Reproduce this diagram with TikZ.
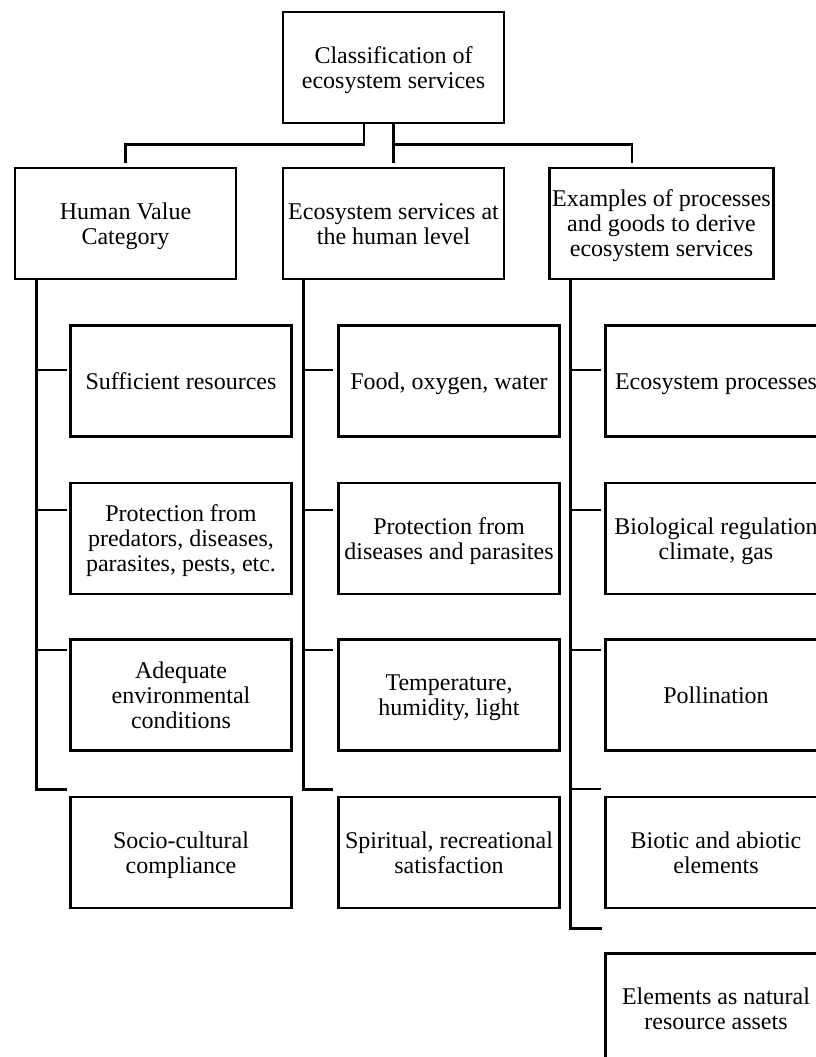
\documentclass[tikz,border=0pt]{standalone}
\usepackage{fontspec}
\setmainfont{Liberation Serif}
\usetikzlibrary{calc}
% even struts on the first and last line of every box text
\newcommand{\topstrut}{\rule{0pt}{17.8pt}}
\newcommand{\lbl}[1]{\topstrut#1\strut}
\begin{document}
\begin{tikzpicture}[x=0.75pt,y=-0.75pt,
  box/.style={draw,line width=1.9pt,outer sep=0pt,inner sep=2pt,
    minimum width=166pt,minimum height=83pt,align=center,
    font=\fontsize{18pt}{18.8pt}\selectfont},
  link/.style={line width=2.2pt}]
\useasboundingbox (0,0) rectangle (816,1057);
\clip (0,0) rectangle (816,1057);

% root and the three category heads
\node[box] (top) at (393.5,67.5) {\lbl{Classification of\\ecosystem services}};
\node[box] (h1) at (125.5,223.5) {\lbl{Human Value\\Category}};
\node[box] (h2) at (393.5,223.5) {\lbl{Ecosystem services at\\the human level}};
\node[box] (h3) at (661.5,223.5) {\lbl{Examples of processes\\and goods to derive\\ecosystem services}};

% first column
\node[box] (a1) at (181,381) {\lbl{Sufficient resources}};
\node[box] (a2) at (181,538.5) {\lbl{Protection from\\predators, diseases,\\parasites, pests, etc.}};
\node[box] (a3) at (181,695) {\lbl{Adequate\\environmental\\conditions}};
\node[box] (a4) at (181,852.5) {\lbl{Socio-cultural\\compliance}};

% second column
\node[box] (b1) at (449,381) {\lbl{Food, oxygen, water}};
\node[box] (b2) at (449,538.5) {\lbl{Protection from\\diseases and parasites}};
\node[box] (b3) at (449,695) {\lbl{Temperature,\\humidity, light}};
\node[box] (b4) at (449,852.5) {\lbl{Spiritual, recreational\\satisfaction}};

% third column
\node[box] (c1) at (716,381) {\lbl{Ecosystem processes}};
\node[box] (c2) at (716,538.5) {\lbl{Biological regulation\\climate, gas}};
\node[box] (c3) at (716,695) {\lbl{Pollination}};
\node[box] (c4) at (716,852.5) {\lbl{Biotic and abiotic\\elements}};
\node[box] (c5) at (716,1009) {\lbl{Elements as natural\\resource assets}};

% root to heads
\draw[link] ($(top.south)+(-29.5,0)$) |- ($(h1.north)+(0,-24)$) -- ($(h1.north)+(0,-5)$);
\draw[link] (top.south) -- ($(h2.north)+(0,-5)$);
\draw[link] ($(h2.north)+(0,-24)$) -| ($(h3.north)+(-29.5,-5)$);

% spines
\coordinate (s1) at ($(h1.south west)+(22,0)$);
\coordinate (s2) at ($(h2.south west)+(21,0)$);
\coordinate (s3) at ($(h3.south west)+(21,0)$);
\draw[link] (s1) |- ($(a4.north west)+(-3,-8)$);
\draw[link] (s2) |- ($(b4.north west)+(-5,-8)$);
\draw[link] (s3) |- ($(c5.north west)+(-3,-25)$);

% branches
\foreach \k/\y in {1/370,2/510,3/650}{
  \draw[link,shorten >=2.25pt] (s1 |- 0,\y) -- (a\k.west |- 0,\y);
  \draw[link,shorten >=3.75pt] (s2 |- 0,\y) -- (b\k.west |- 0,\y);
}
\foreach \k/\y in {1/370,2/510,3/650,4/789}{
  \draw[link,shorten >=3pt] (s3 |- 0,\y) -- (c\k.west |- 0,\y);
}
\end{tikzpicture}
\end{document}
